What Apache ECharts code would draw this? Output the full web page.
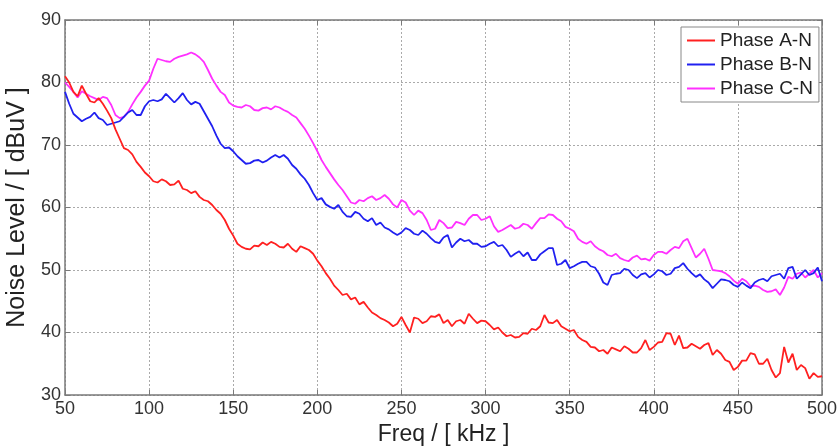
<!DOCTYPE html>
<html>
<head>
<meta charset="utf-8">
<script src="https://cdn.jsdelivr.net/npm/echarts@6/dist/echarts.min.js"></script>
<style>
html,body{margin:0;padding:0;background:#fff;}
#chart{width:840px;height:446px;}
</style>
</head>
<body>
<div id="chart"></div>
<script>
var freq = [
50,52.5,55,57.5,60,62.5,65,67.5,70,72.5,75,77.5,80,82.5,85,87.5,90,92.5,95,97.5,
100,102.5,105,107.5,110,112.5,115,117.5,120,122.5,125,127.5,130,132.5,135,137.5,140,142.5,145,147.5,
150,152.5,155,157.5,160,162.5,165,167.5,170,172.5,175,177.5,180,182.5,185,187.5,190,192.5,195,197.5,
200,202.5,205,207.5,210,212.5,215,217.5,220,222.5,225,227.5,230,232.5,235,237.5,240,242.5,245,247.5,
250,252.5,255,257.5,260,262.5,265,267.5,270,272.5,275,277.5,280,282.5,285,287.5,290,292.5,295,297.5,
300,302.5,305,307.5,310,312.5,315,317.5,320,322.5,325,327.5,330,332.5,335,337.5,340,342.5,345,347.5,
350,352.5,355,357.5,360,362.5,365,367.5,370,372.5,375,377.5,380,382.5,385,387.5,390,392.5,395,397.5,
400,402.5,405,407.5,410,412.5,415,417.5,420,422.5,425,427.5,430,432.5,435,437.5,440,442.5,445,447.5,
450,452.5,455,457.5,460,462.5,465,467.5,470,472.5,475,477.5,480,482.5,485,487.5,490,492.5,495,497.5,
500];

var phaseA = [
81,80,78.5,77.8,79.5,78.2,77,76.8,77.5,76.6,75.5,74.3,72.5,71,69.5,69.2,68.5,67.3,66.5,65.6,
65,64.2,64,64.5,64.2,63.6,63.7,64.3,63,62.8,62.3,62.6,61.7,61.2,61,60.4,59.6,59,58,56.6,
55.5,54.2,53.7,53.4,53.3,53.9,53.8,54.4,54,54.5,54.2,53.7,53.6,54.2,53.4,52.9,53.8,53.5,53.2,52.6,
51.5,50.6,49.5,48.6,47.5,46.8,46,46.2,45.3,45.6,44.5,44.9,44,43.2,42.8,42.3,42,41.6,41,41.4,
42.5,41.2,40,42.4,42.2,41.5,41.8,42.6,42.5,42.9,41.5,42,41,41.8,42,41.4,43,42.2,41.5,41.9,
41.8,41.2,40.5,40.8,40,39.4,39.6,39.2,39.3,39.9,39.8,40.6,40.4,41,42.8,41.6,41.5,42,41,40.6,
40.2,40.4,39.3,38.8,38.5,37.7,37.6,37,37.2,36.6,37.6,37.3,37,37.8,37.4,36.8,36.8,37.5,38.8,37.2,
37.7,38.4,38.5,39.9,39.8,38,39.5,37.5,37.6,38.2,37.8,37.4,38,38.3,36.4,37.2,36.6,35.6,35.3,34,
34.5,35.5,35.5,36.7,36.5,35,35,35.8,34,32.8,33.5,37.7,35.2,36.6,34,34.8,34.3,32.6,33.5,32.9,
33];

var phaseB = [
78.5,76.6,75,74.4,73.8,74.2,74.5,75.2,74.3,74,73.2,73.4,73.6,73.8,74.5,75.2,75.6,74.8,74.8,76.2,
77,77.2,77,77.3,78.2,77.5,76.8,77.5,78.3,77.2,76.5,76.9,76.6,75.4,74.2,73,71.5,70.2,69.5,69.6,
69,68.2,67.6,67,67.1,67.5,67.6,67.2,67.5,68,68.4,68,68.4,67.8,66.8,66.2,65.3,64.6,63.6,62.3,
61.2,61.5,60.5,60.1,59.8,60.4,59.3,58.6,58.5,59.3,59,58.2,57.8,58.3,57.2,57.6,56.8,56.5,56,55.6,
56,56.7,56.4,55.8,55.6,56.3,55.8,55.1,54.5,54.3,55.2,55.6,53.6,54.4,55,54.6,54.8,54.2,54.2,53.7,
53.8,54.2,54.5,53.8,54,53.2,52.1,52.6,53,52.2,52.8,51.6,51.6,52.5,53,53.5,53.5,50.8,51,51.6,
50.3,50.6,51,51.3,51.3,50.6,50.4,49.4,48,47.6,49.2,49.4,49.5,50.2,50,49.2,48.7,49.3,49.5,48.8,
49.3,50,49.8,49.2,49.4,50.3,50.5,51.1,50.2,49.5,48.9,49.3,48.5,48,47.1,47.8,48.5,48.4,48.2,47.6,
47.3,48,47.5,47.1,48,48.4,48.6,48.2,49,49.2,49.4,48.6,50.3,50.5,48.6,49.3,50,49.2,49.5,50.4,
48.2];

var phaseC = [
80,79.3,78.5,77.6,78.6,78.2,77.8,77.5,77.2,77.7,77.5,76.4,74.8,74.3,74.5,75.3,76.5,77.6,78.5,79.5,
80.3,82.2,83.8,83.6,83.4,83.3,83.8,84.1,84.3,84.5,84.8,84.5,84,83.3,82,80.6,79.5,78.5,78,76.8,
76.3,76.1,76,76.4,76.2,75.6,75.5,75.9,76,75.7,76.2,76,75.6,75.3,74.8,74.4,73.5,72.6,71.5,70.3,
69,67.6,66.5,65.5,64.5,63.6,62.8,61.8,60.8,60.6,61.2,61,61.5,61.8,61.2,61.5,62,61.4,60.5,60,
61.2,60.8,59.5,58.8,59.5,59.1,58,56.4,56.6,58,57.5,56.7,56.8,57.7,57.5,57.2,58.2,58.8,58.8,58,
58.2,58.6,57,56.1,56.4,56.8,57.2,56.6,56.8,57.4,57.2,56.6,57.5,58.3,58.3,58.9,58.8,58.2,57.8,56.9,
56.6,56.2,55,54.5,54.2,54.6,53.8,53.3,53,52.4,52.2,52.6,51.9,51.6,51.4,52,52.3,51.7,51.8,51.5,
52.4,52.9,52.9,52.6,53.2,53.7,53.5,54.6,55,53.5,52,52.6,53.4,51.8,50,49.9,49.8,49.5,49,48.3,
47.8,48.6,48.2,47.4,47.5,47.3,46.8,46.5,46.6,46.9,46,47.2,48.9,48.6,49.4,49.6,48.8,49.4,50,48.8,
49.5];

var seriesNames = ['Phase A-N','Phase B-N','Phase C-N'];
var xTitle = 'Freq / [ kHz ]';
var yTitle = 'Noise Level / [ dBuV ]';

function pairs(vals){ return freq.map(function(f,i){ return [f, vals[i]]; }); }

var chart = echarts.init(document.getElementById('chart'), null, {renderer:'canvas'});
var font = 'Liberation Sans, Arial, sans-serif';
var axisCol = '#7a7a7a';
var gridLine = {show:true, lineStyle:{color:'#aaaaaa', type:[2,2], width:1}};

chart.setOption({
  animation:false,
  backgroundColor:'#ffffff',
  grid:{left:65, right:18, top:20, bottom:51, show:false, containLabel:false, outerBoundsMode:'none'},
  legend:{
    data:seriesNames, orient:'vertical', left:681, top:27,
    padding:[4,6,4,6], itemWidth:28, itemHeight:2, itemGap:5, icon:'rect',
    backgroundColor:'#ffffff', borderColor:'#888888', borderWidth:1,
    textStyle:{fontFamily:font, fontSize:19, lineHeight:19, color:'#222222'}
  },
  xAxis:[{
    type:'value', min:50, max:500, interval:50,
    axisLine:{show:true, onZero:false, lineStyle:{color:axisCol, width:1.5}},
    axisTick:{show:true, inside:true, length:5, lineStyle:{color:axisCol}},
    axisLabel:{fontFamily:font, fontSize:18, color:'#333333', margin:5},
    splitLine:gridLine,
    name:xTitle, nameLocation:'middle', nameGap:28,
    nameTextStyle:{fontFamily:font, fontSize:23, color:'#222222'}
  },{
    type:'value', position:'top', min:50, max:500, interval:50,
    axisLine:{show:true, onZero:false, lineStyle:{color:axisCol, width:1.5}},
    axisTick:{show:true, inside:true, length:5, lineStyle:{color:axisCol}},
    axisLabel:{show:false}, splitLine:{show:false}
  }],
  yAxis:[{
    type:'value', min:30, max:90, interval:10,
    axisLine:{show:true, onZero:false, lineStyle:{color:axisCol, width:1.5}},
    axisTick:{show:true, inside:true, length:5, lineStyle:{color:axisCol}},
    axisLabel:{fontFamily:font, fontSize:18, color:'#333333', margin:4},
    splitLine:gridLine,
    name:yTitle, nameLocation:'middle', nameGap:33, nameRotate:90,
    nameTextStyle:{fontFamily:font, fontSize:25, color:'#222222'}
  },{
    type:'value', position:'right', min:30, max:90, interval:10,
    axisLine:{show:true, onZero:false, lineStyle:{color:axisCol, width:1.5}},
    axisTick:{show:true, inside:true, length:5, lineStyle:{color:axisCol}},
    axisLabel:{show:false}, splitLine:{show:false}
  }],
  series:[
    {name:seriesNames[0], type:'line', data:pairs(phaseA), symbol:'none', lineStyle:{color:'#ff2020', width:1.8}, itemStyle:{color:'#ff2020'}, z:3},
    {name:seriesNames[1], type:'line', data:pairs(phaseB), symbol:'none', lineStyle:{color:'#2020f0', width:1.8}, itemStyle:{color:'#2020f0'}, z:2},
    {name:seriesNames[2], type:'line', data:pairs(phaseC), symbol:'none', lineStyle:{color:'#ff30ff', width:1.8}, itemStyle:{color:'#ff30ff'}, z:1}
  ]
});
</script>
</body>
</html>
